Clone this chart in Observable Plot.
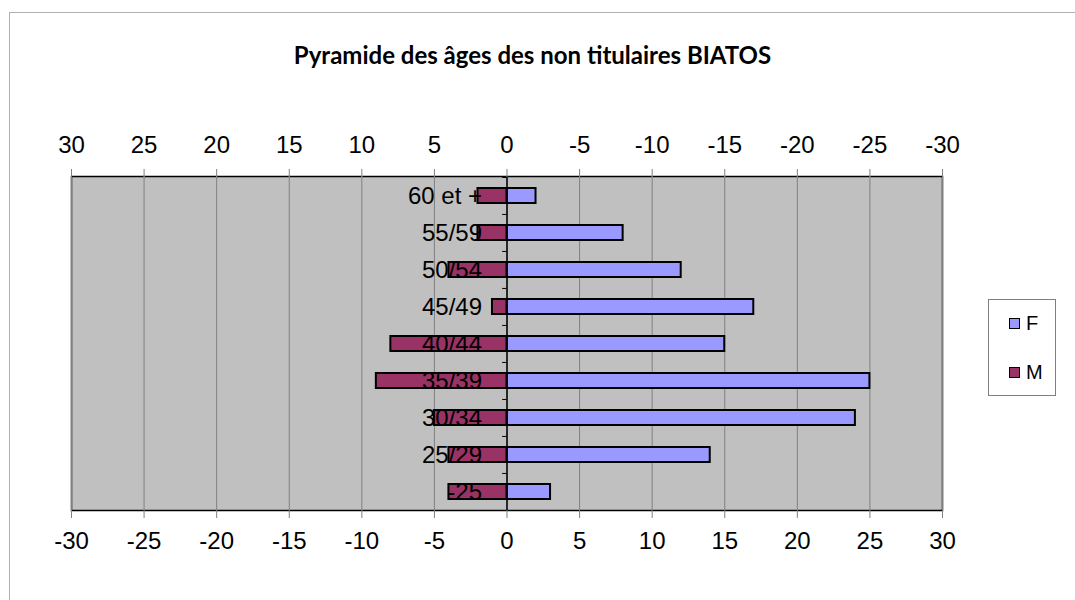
<!DOCTYPE html>
<html>
<head>
<meta charset="utf-8">
<script src="https://cdn.jsdelivr.net/npm/d3@7"></script>
<script src="https://cdn.jsdelivr.net/npm/@observablehq/plot@0.6"></script>
<style>
  html, body { margin: 0; padding: 0; background: #fff; overflow: hidden; }
  #wrap { position: relative; width: 1075px; height: 600px; font-family: "Liberation Sans", Arial, sans-serif; }
  #border { position: absolute; left: 9px; top: 12px; width: 1075px; height: 620px; border: 1px solid #b0b0b0; box-sizing: border-box; }
  #title { position: absolute; left: 0; width: 1065px; top: 40px; text-align: center; font-family: Lato, "Open Sans", sans-serif; font-weight: bold; font-size: 24px; color: #000; }
  #chart { position: absolute; left: 0; top: 0; }
  #legend { position: absolute; left: 988px; top: 299px; width: 68px; height: 97px; border: 1px solid #808080; box-sizing: border-box; background: #fff; }
  .item { position: absolute; left: 20px; font-size: 20px; line-height: 22px; display: flex; align-items: center; }
  .sw { width: 9px; height: 9px; border: 1.5px solid #000; margin-right: 6px; }
</style>
</head>
<body>
<div id="wrap">
  <div id="border"></div>
  <div id="chart"></div>
  <div id="title">Pyramide des âges des non titulaires BIATOS</div>
  <div id="legend"></div>
</div>
<script>
// Data
const categories = ["60 et +", "55/59", "50/54", "45/49", "40/44", "35/39", "30/34", "25/29", "-25"];
const femmes = [2, 8, 12, 17, 15, 25, 24, 14, 3];
const hommes = [2, 2, 4, 1, 8, 9, 5, 4, 4];
const seriesNames = ["F", "M"];
const seriesColors = ["#9999ff", "#993366"];
const xTicks = [-30, -25, -20, -15, -10, -5, 0, 5, 10, 15, 20, 25, 30];

const W = 1075, H = 600, mT = 176, mB = 90, mL = 71, mR = 133;
const step = (H - mT - mB) / categories.length;

const rows = [];
categories.forEach((c, i) => {
  rows.push({cat: c, sexe: "F", v: femmes[i]});
  rows.push({cat: c, sexe: "M", v: -hommes[i]});
});

const chart = Plot.plot({
  width: W, height: H,
  marginTop: mT, marginBottom: mB, marginLeft: mL, marginRight: mR,
  style: {fontFamily: '"Liberation Sans", Arial, sans-serif', background: "transparent"},
  x: {domain: [-30, 30]},
  y: {domain: categories, paddingInner: 0.6, paddingOuter: 0.3, axis: null},
  color: {domain: seriesNames, range: seriesColors},
  marks: [
    Plot.frame({fill: "#c0c0c0", stroke: "#000", strokeWidth: 1.5}),
    Plot.ruleX(xTicks, {stroke: "#808080", strokeWidth: 1}),
    Plot.barX(rows, {y: "cat", x1: 0, x2: "v", fill: "sexe", stroke: "#000", strokeWidth: 2}),
    Plot.ruleX([0], {stroke: "#000", strokeWidth: 1.5}),
    Plot.ruleY(categories, {y: d => d, x1: -0.3, x2: 0, dy: -step / 2, stroke: "#000", strokeWidth: 1}),
    Plot.text(categories, {x: 0, y: d => d, text: d => d, textAnchor: "end", dx: -25, fontSize: 24, fill: "#000", fontFamily: '"Liberation Sans", Arial, sans-serif'}),
    Plot.axisX({anchor: "top", ticks: xTicks, tickFormat: d => String(-d), tickSize: 8, tickPadding: 16, fontSize: 24, stroke: "#808080", fill: "#000", label: null, fontFamily: '"Liberation Sans", Arial, sans-serif'}),
    Plot.axisX({anchor: "bottom", ticks: xTicks, tickFormat: d => String(d), tickSize: 8, tickPadding: 13, fontSize: 24, stroke: "#808080", fill: "#000", label: null, fontFamily: '"Liberation Sans", Arial, sans-serif'})
  ]
});
document.getElementById("chart").appendChild(chart);

const legend = document.getElementById("legend");
seriesNames.forEach((n, i) => {
  const it = document.createElement("div");
  it.className = "item";
  it.style.top = (12 + i * 49) + "px";
  const sw = document.createElement("div");
  sw.className = "sw";
  sw.style.background = seriesColors[i];
  it.appendChild(sw);
  it.appendChild(document.createTextNode(n));
  legend.appendChild(it);
});
</script>
</body>
</html>
